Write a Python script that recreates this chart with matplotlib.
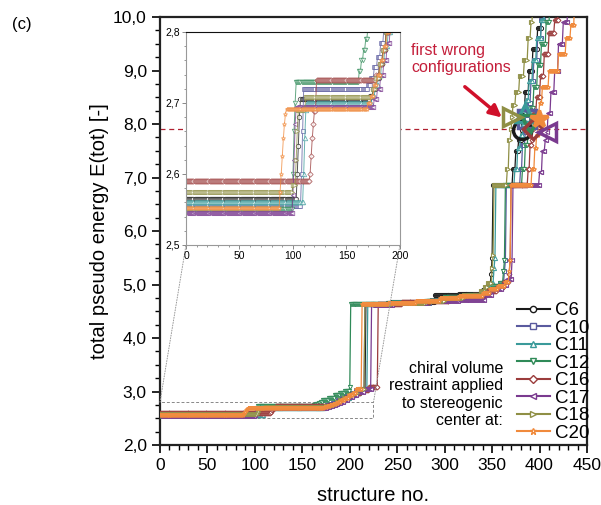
import numpy as np
import matplotlib
matplotlib.use("Agg")
import matplotlib.pyplot as plt
from matplotlib.patches import Rectangle, ConnectionPatch
from matplotlib.lines import Line2D
from matplotlib.ticker import MultipleLocator, FuncFormatter

plt.rcParams['font.family'] = ['Liberation Sans', 'DejaVu Sans']

# sorted pseudo energies, read off the plot as steps:
# (structure no. where the step ends, energy held up to there)
c6_steps = [(104, 2.565), (105, 2.60), (106, 2.64), (107, 2.68), (172, 2.705), (175, 2.71),
            (178, 2.72), (181, 2.735), (184, 2.755), (187, 2.775), (190, 2.80), (194, 2.84),
            (198, 2.88), (203, 2.93), (209, 2.98), (217, 3.04),
            (245, 4.64), (290, 4.67), (315, 4.80), (340, 4.83), (346, 4.90), (349, 5.0),
            (350, 5.2), (351, 5.5), (372, 6.86), (375, 7.15), (378, 7.5), (381, 7.7),
            (382, 7.89), (385, 8.25), (389, 8.6), (393, 9.0), (398, 9.4), (402, 9.8), (445, 10.3)]
c10_steps = [(108, 2.555), (109, 2.60), (110, 2.66), (170, 2.72), (173, 2.725), (176, 2.735),
             (179, 2.75), (182, 2.765), (185, 2.785), (188, 2.805), (192, 2.84), (196, 2.88),
             (201, 2.93), (207, 2.98), (216, 3.03),
             (245, 4.63), (285, 4.66), (300, 4.70), (325, 4.76), (342, 4.81), (350, 4.90),
             (358, 4.97), (363, 5.03), (364, 5.25), (365, 5.45), (380, 6.86), (382, 7.15),
             (385, 7.6), (387, 7.85), (388, 8.1), (391, 8.4), (394, 8.8), (398, 9.2),
             (402, 9.6), (405, 9.95), (445, 10.3)]
c11_steps = [(110, 2.560), (111, 2.60), (112, 2.65), (113, 2.69), (174, 2.70), (177, 2.71),
             (180, 2.725), (183, 2.74), (186, 2.76), (189, 2.78), (192, 2.80), (196, 2.84),
             (200, 2.88), (205, 2.93), (211, 2.98), (219, 3.04),
             (245, 4.64), (285, 4.67), (300, 4.71), (325, 4.76), (342, 4.81), (346, 4.88),
             (349, 4.95), (352, 5.02), (353, 5.3), (354, 5.5), (374, 6.86), (377, 7.15),
             (380, 7.55), (383, 7.8), (385, 8.0), (386, 8.2), (389, 8.45), (393, 8.8),
             (397, 9.2), (402, 9.6), (406, 9.95), (445, 10.3)]
c12_steps = [(100, 2.550), (101, 2.60), (102, 2.66), (103, 2.70), (162, 2.73), (164, 2.745),
             (166, 2.76), (168, 2.775), (170, 2.79), (172, 2.805), (178, 2.84), (184, 2.88),
             (190, 2.93), (195, 2.97), (200, 3.01), (201, 3.08),
             (240, 4.63), (280, 4.66), (300, 4.70), (325, 4.76), (342, 4.81),
             (350, 4.90), (358, 4.97), (362, 5.03), (363, 5.25), (364, 5.45), (382, 6.86),
             (385, 7.15), (388, 7.6), (390, 7.85), (391, 8.0), (394, 8.3), (398, 8.7),
             (402, 9.1), (407, 9.5), (411, 9.9), (445, 10.3)]
c16_steps = [(116, 2.590), (117, 2.60), (118, 2.625), (119, 2.65), (120, 2.67), (122, 2.688),
             (178, 2.732), (181, 2.74), (184, 2.755), (187, 2.775), (190, 2.80), (194, 2.84),
             (199, 2.88), (205, 2.93), (212, 2.98), (220, 3.03), (230, 3.09),
             (255, 4.64), (285, 4.67), (305, 4.70),
             (330, 4.75), (345, 4.80), (355, 4.88), (363, 4.96), (368, 5.05), (369, 5.2),
             (370, 5.45), (388, 6.86), (390, 7.15), (392, 7.6), (393, 7.7), (394, 7.9),
             (397, 8.2), (401, 8.5), (405, 8.9), (410, 9.3), (416, 9.7), (420, 9.95), (445, 10.3)]
c17_steps = [(100, 2.545), (101, 2.57), (102, 2.62), (103, 2.67), (176, 2.695), (179, 2.705),
             (182, 2.72), (185, 2.74), (188, 2.76), (191, 2.785), (194, 2.81), (198, 2.85),
             (203, 2.89), (208, 2.94), (215, 2.99), (223, 3.04),
             (245, 4.62), (280, 4.65), (315, 4.69), (342, 4.71), (350, 4.80), (360, 4.92),
             (366, 5.0), (371, 5.1), (372, 5.45), (400, 6.86), (403, 7.1), (406, 7.5),
             (408, 7.7), (409, 7.85), (412, 8.2), (416, 8.6), (420, 9.0), (425, 9.5),
             (430, 9.9), (445, 10.3)]
c18_steps = [(100, 2.575), (103, 2.585), (104, 2.62), (105, 2.66), (112, 2.69), (175, 2.709),
             (178, 2.72), (181, 2.735), (184, 2.755), (187, 2.775), (190, 2.80), (194, 2.84),
             (199, 2.88), (204, 2.93), (209, 2.98), (216, 3.04),
             (245, 4.63), (280, 4.66), (300, 4.70), (320, 4.75), (338, 4.80),
             (343, 4.88), (346, 4.95), (350, 5.02), (351, 5.3), (352, 5.55), (366, 6.86),
             (368, 7.15), (370, 7.7), (371, 7.9), (372, 8.13), (375, 8.35), (379, 8.6),
             (384, 8.9), (388, 9.2), (391, 9.6), (393, 9.9), (445, 10.3)]
c20_steps = [(88, 2.552), (89, 2.575), (90, 2.60), (91, 2.625), (92, 2.65), (93, 2.67),
             (94, 2.685), (170, 2.692), (173, 2.70), (176, 2.71), (179, 2.725), (182, 2.74),
             (185, 2.76), (188, 2.78), (191, 2.80), (195, 2.84), (199, 2.88), (203, 2.93),
             (207, 2.98), (213, 3.05), (240, 4.63), (270, 4.66), (295, 4.69), (315, 4.74),
             (340, 4.79), (348, 4.84), (356, 4.92), (364, 4.98), (368, 5.05), (369, 5.25),
             (370, 5.45), (392, 6.86), (395, 7.15), (397, 7.55), (399, 7.8), (400, 8.1),
             (403, 8.4), (410, 8.7), (420, 9.0), (428, 9.3), (433, 9.6), (437, 9.85), (445, 10.3)]

labels = ['C6', 'C10', 'C11', 'C12', 'C16', 'C17', 'C18', 'C20']
all_steps = [c6_steps, c10_steps, c11_steps, c12_steps, c16_steps, c17_steps, c18_steps, c20_steps]
colors = ['#1a1a1a', '#5a5a9e', '#3a9a9a', '#2f8a58', '#9b3c3c', '#7a3a8f', '#8f8f45', '#f08a3c']
markers = ['o', 's', '^', 'v', 'D', '<', '>', '*']
# structure no. of the first wrong configuration per series
first_wrong_no = [381, 387, 385, 390, 393, 408, 371, 399]


def expand(steps):
    ends = np.array([s[0] for s in steps])
    vals = np.array([s[1] for s in steps])
    counts = np.diff(np.concatenate([[0], ends]))
    return np.repeat(vals, counts)


def comma(v, pos):
    return ('%.1f' % v).replace('.', ',')


fig = plt.figure(figsize=(6.01, 5.05), dpi=100)
ax = fig.add_axes([0.2662, 0.1188, 0.7105, 0.8475])

ax.axhline(7.9, color='#b02030', ls=(0, (4, 3)), lw=0.9, zorder=1)
ax.add_patch(Rectangle((0, 2.5), 225, 0.3, fill=False, ls=(0, (3, 2)), ec='#888888', lw=0.7, zorder=2))

for steps, c, m in zip(all_steps, colors, markers):
    e = expand(steps)
    n = np.arange(len(e))
    ms = 3.0 if m != 'D' else 2.5
    ax.plot(n, e, color=c, marker=m, ms=ms, mfc='white', mew=0.7, lw=0.9, zorder=3)

# highlighted first wrong configurations
for steps, c, m, k in zip(all_steps, colors, markers, first_wrong_no):
    e = expand(steps)
    fc = c if m == '*' else 'none'
    ax.plot([k], [e[k]], marker=m, ms=13 if m != 'D' else 10, mfc=fc, mec=c, mew=2.5,
            ls='none', zorder=6)

ax.set_xlim(0, 450)
ax.set_ylim(2.0, 10.0)
ax.xaxis.set_major_locator(MultipleLocator(50))
ax.xaxis.set_minor_locator(MultipleLocator(10))
ax.yaxis.set_major_locator(MultipleLocator(1))
ax.yaxis.set_minor_locator(MultipleLocator(0.25))
ax.yaxis.set_major_formatter(FuncFormatter(comma))
ax.tick_params(which='major', direction='out', length=6, width=1.2, labelsize=12.5)
ax.tick_params(which='minor', direction='out', length=3.5, width=1.0)
for s in ax.spines.values():
    s.set_linewidth(1.6)
    s.set_color('#222222')
ax.set_xlabel('structure no.', fontsize=14.5, labelpad=9)
ax.set_ylabel('total pseudo energy E(tot) [-]', fontsize=14.5, labelpad=3)

handles = [Line2D([], [], color=c, marker=m, ms=4.5, mfc='white', mew=1.0, lw=1.5)
           for c, m in zip(colors, markers)]
ax.legend(handles, labels, loc='upper left', bbox_to_anchor=(517 / 601, 1 - 302 / 505),
          bbox_transform=fig.transFigure, frameon=False, fontsize=13.5, handlelength=1.75,
          handletextpad=0.25, labelspacing=0.02, borderpad=0, borderaxespad=0)

ax.annotate('', xy=(362.5, 8.09), xytext=(319, 8.73),
            arrowprops=dict(arrowstyle='-|>', color='#d0102a', lw=2.5, mutation_scale=18))
fig.text(411 / 601, 1 - 43 / 505, 'first wrong\nconfigurations', color='#c41e3a',
         fontsize=11.5, va='top', ha='left')
fig.text(503 / 601, 1 - 361 / 505, 'chiral volume\nrestraint applied\nto stereogenic\ncenter at:',
         fontsize=11.5, va='top', ha='right', linespacing=1.2)
fig.text(12 / 601, 1 - 25 / 505, '(c)', fontsize=12, va='center')

# zoomed inset
axin = fig.add_axes([0.3095, 0.5149, 0.356, 0.4218])
axin.set_zorder(5)
for steps, c, m in zip(all_steps, colors, markers):
    e = expand(steps)
    n = np.arange(len(e))
    axin.plot(n, e, color=c, marker=m, ms=3.2 if m != 'D' else 2.7, mfc='white', mew=0.6,
              lw=0.7, alpha=0.75)
axin.set_xlim(0, 200)
axin.set_ylim(2.5, 2.8)
axin.xaxis.set_major_locator(MultipleLocator(50))
axin.xaxis.set_minor_locator(MultipleLocator(10))
axin.yaxis.set_major_locator(MultipleLocator(0.1))
axin.yaxis.set_minor_locator(MultipleLocator(0.02))
axin.yaxis.set_major_formatter(FuncFormatter(comma))
axin.tick_params(which='major', direction='out', length=3, width=0.7, labelsize=7.5,
                 color='#888888', pad=1.5)
axin.tick_params(which='minor', direction='out', length=1.5, width=0.6, color='#888888')
for name, s in axin.spines.items():
    s.set_linewidth(0.8)
    s.set_color('#111111' if name == 'top' else '#999999')

for xa, xb in [((0, 2.8), (0, 2.5)), ((225, 2.8), (200, 2.5))]:
    con = ConnectionPatch(xyA=xa, coordsA=ax.transData, xyB=xb, coordsB=axin.transData,
                          ls=':', color='#999999', lw=0.7)
    fig.add_artist(con)

fig.savefig('out.png', dpi=100)
